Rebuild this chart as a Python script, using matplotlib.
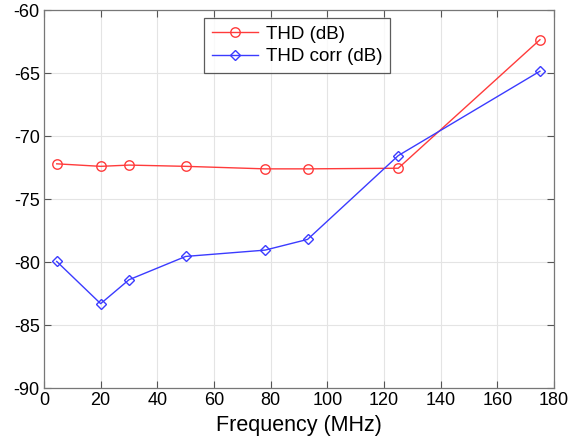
import matplotlib.pyplot as plt

# frequency points (MHz)
freq = [4.5, 20, 30, 50, 78, 93, 125, 175]
# THD values (dB)
thd = [-72.2, -72.4, -72.3, -72.4, -72.6, -72.6, -72.55, -62.35]
# corrected THD values (dB)
thd_corr = [-79.95, -83.3, -81.4, -79.55, -79.05, -78.2, -71.55, -64.85]

xticks = [0, 20, 40, 60, 80, 100, 120, 140, 160, 180]
yticks = [-90, -85, -80, -75, -70, -65, -60]

plt.rcParams['font.family'] = ['Liberation Sans', 'DejaVu Sans']
plt.rcParams['axes.unicode_minus'] = False

fig = plt.figure(figsize=(5.81, 4.4), dpi=100)
ax = fig.add_axes([0.0757, 0.118, 0.878, 0.859])

ax.plot(freq, thd, color='#ff3b3b', lw=1.0, marker='o', ms=6.8,
        mfc='none', mec='#ff3b3b', mew=1.0, label='THD (dB)')
ax.plot(freq, thd_corr, color='#3b3bff', lw=1.0, marker='D', ms=5.2,
        mfc='none', mec='#3b3bff', mew=1.0, label='THD corr (dB)')

ax.set_xlim(0, 180)
ax.set_ylim(-90, -60)
ax.set_xticks(xticks)
ax.set_yticks(yticks)
ax.tick_params(direction='in', top=True, right=True, labelsize=13,
               length=5, color='#555555', pad=3)
ax.grid(True, color='#e4e4e4', lw=0.8)
ax.set_axisbelow(True)
for s in ax.spines.values():
    s.set_color('#777777')
    s.set_linewidth(0.9)

ax.set_xlabel('Frequency (MHz)', fontsize=15.5, labelpad=4)

leg = ax.legend(loc='upper center', bbox_to_anchor=(0.496, 0.979),
                fontsize=13.5, frameon=True, fancybox=False,
                borderpad=0.4, handlelength=2.5, labelspacing=0.3,
                handletextpad=0.4, borderaxespad=0.0)
leg.get_frame().set_edgecolor('#333333')
leg.get_frame().set_linewidth(0.9)

fig.savefig('out.png', dpi=100)
